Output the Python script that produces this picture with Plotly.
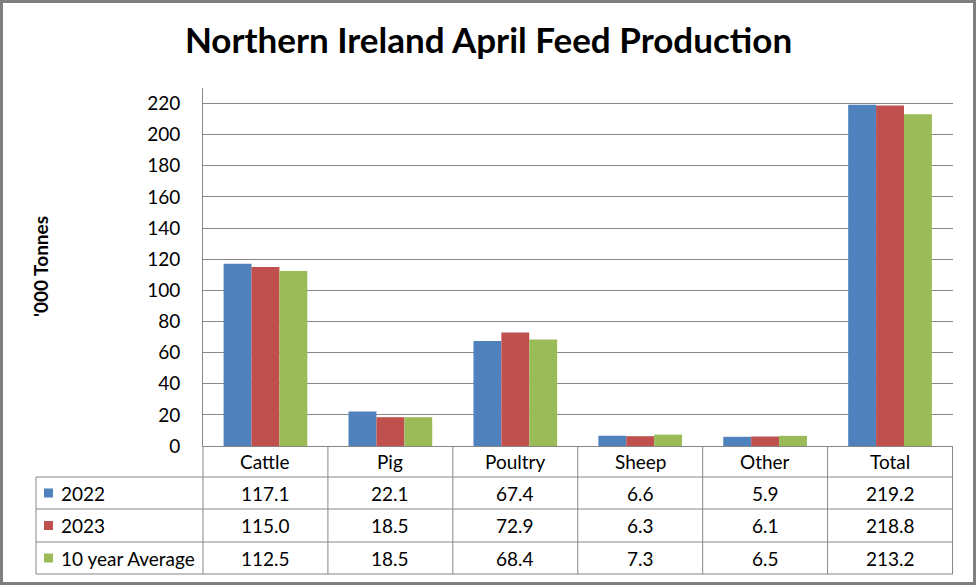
import plotly.graph_objects as go

categories = ["Cattle", "Pig", "Poultry", "Sheep", "Other", "Total"]
series_names = ["2022", "2023", "10 year Average"]
values_2022 = [117.1, 22.1, 67.4, 6.6, 5.9, 219.2]
values_2023 = [115.0, 18.5, 72.9, 6.3, 6.1, 218.8]
values_avg = [112.5, 18.5, 68.4, 7.3, 6.5, 213.2]
y_ticks = [0, 20, 40, 60, 80, 100, 120, 140, 160, 180, 200, 220]

colors = ["#4F81BD", "#C0504D", "#9BBB59"]
line_col = "#878787"
font_name = "Lato"

W, H = 977, 586
L, R, T, B = 203, 953, 88, 446  # plot area in pixels


def px(x):
    return (x - L) / (R - L)


def py(y):
    return (B - y) / (B - T)


fig = go.Figure()
all_values = [values_2022, values_2023, values_avg]
for name, vals, col in zip(series_names, all_values, colors):
    fig.add_trace(go.Bar(x=categories, y=vals, name=name, marker_color=col,
                         marker_line_width=0, hoverinfo="x+y+name"))

# data table under the plot
row_edges = [446, 477, 509, 542, 574]
row_mid = [(row_edges[i] + row_edges[i + 1]) / 2 for i in range(4)]
tbl_left = 36

shapes = []
# horizontal lines
for yy in row_edges[1:]:
    shapes.append(dict(type="line", xref="paper", yref="paper",
                       x0=px(tbl_left), x1=1, y0=py(yy), y1=py(yy),
                       line=dict(color=line_col, width=1)))
# left edges
shapes.append(dict(type="line", xref="paper", yref="paper",
                   x0=px(tbl_left), x1=px(tbl_left), y0=py(row_edges[1]), y1=py(row_edges[-1]),
                   line=dict(color=line_col, width=1)))
shapes.append(dict(type="line", xref="paper", yref="paper",
                   x0=0, x1=0, y0=0, y1=py(row_edges[-1]),
                   line=dict(color=line_col, width=1)))
# category separators
for i in range(len(categories)):
    shapes.append(dict(type="line", xref="x", yref="paper",
                       x0=i + 0.5, x1=i + 0.5, y0=0, y1=py(row_edges[-1]),
                       line=dict(color=line_col, width=1)))
# legend keys
for i, col in enumerate(colors):
    shapes.append(dict(type="rect", xref="paper", yref="paper",
                       x0=px(44), x1=px(53), y0=py(row_mid[i + 1] + 4.5), y1=py(row_mid[i + 1] - 4.5),
                       fillcolor=col, line_width=0))
# outer border
shapes.append(dict(type="rect", xref="paper", yref="paper",
                   x0=px(1.5), x1=px(W - 2.5), y0=py(H - 2.5), y1=py(1.5),
                   line=dict(color="#7f7f7f", width=3)))

annotations = []
for c in categories:
    annotations.append(dict(x=c, xref="x", y=py(row_mid[0]), yref="paper", text=c,
                            xanchor="center", yanchor="middle", showarrow=False))
for i, (name, vals) in enumerate(zip(series_names, all_values)):
    annotations.append(dict(x=px(59), xref="paper", y=py(row_mid[i + 1]), yref="paper",
                            text=name, xanchor="left", yanchor="middle", showarrow=False))
    for c, v in zip(categories, vals):
        annotations.append(dict(x=c, xref="x", y=py(row_mid[i + 1]), yref="paper",
                                text=f"{v:.1f}", xanchor="center", yanchor="middle",
                                showarrow=False))
# y axis title
annotations.append(dict(x=px(40), xref="paper", y=py(267), yref="paper", text="<b>'000 Tonnes</b>",
                        textangle=-90, xanchor="center", yanchor="middle", showarrow=False,
                        font=dict(size=19)))

fig.update_layout(
    width=W, height=H,
    margin=dict(l=L, r=W - R, t=T, b=H - B),
    paper_bgcolor="white", plot_bgcolor="white",
    font=dict(family=font_name, color="black", size=19),
    title=dict(text="<b>Northern Ireland April Feed Production</b>", x=0.5, xref="container",
               xanchor="center", y=1 - 41 / H, yanchor="middle", font=dict(size=35, color="black")),
    showlegend=False,
    barmode="group", bargap=0.33, bargroupgap=0,
    shapes=shapes, annotations=annotations,
)
fig.update_xaxes(showticklabels=False, showline=True, linecolor=line_col, linewidth=1,
                 showgrid=False, ticks="", fixedrange=True)
fig.update_yaxes(range=[0, 230], tickvals=y_ticks, showline=True, linecolor=line_col, linewidth=1,
                 showgrid=True, gridcolor=line_col, gridwidth=1, zeroline=False,
                 ticks="", ticklabelstandoff=18, tickfont=dict(size=19))

# page has a default body margin; drop it so the figure sits at the window's corner
fig.write_html("out.html", config={"displayModeBar": False},
               post_script="document.body.style.margin='0';")
